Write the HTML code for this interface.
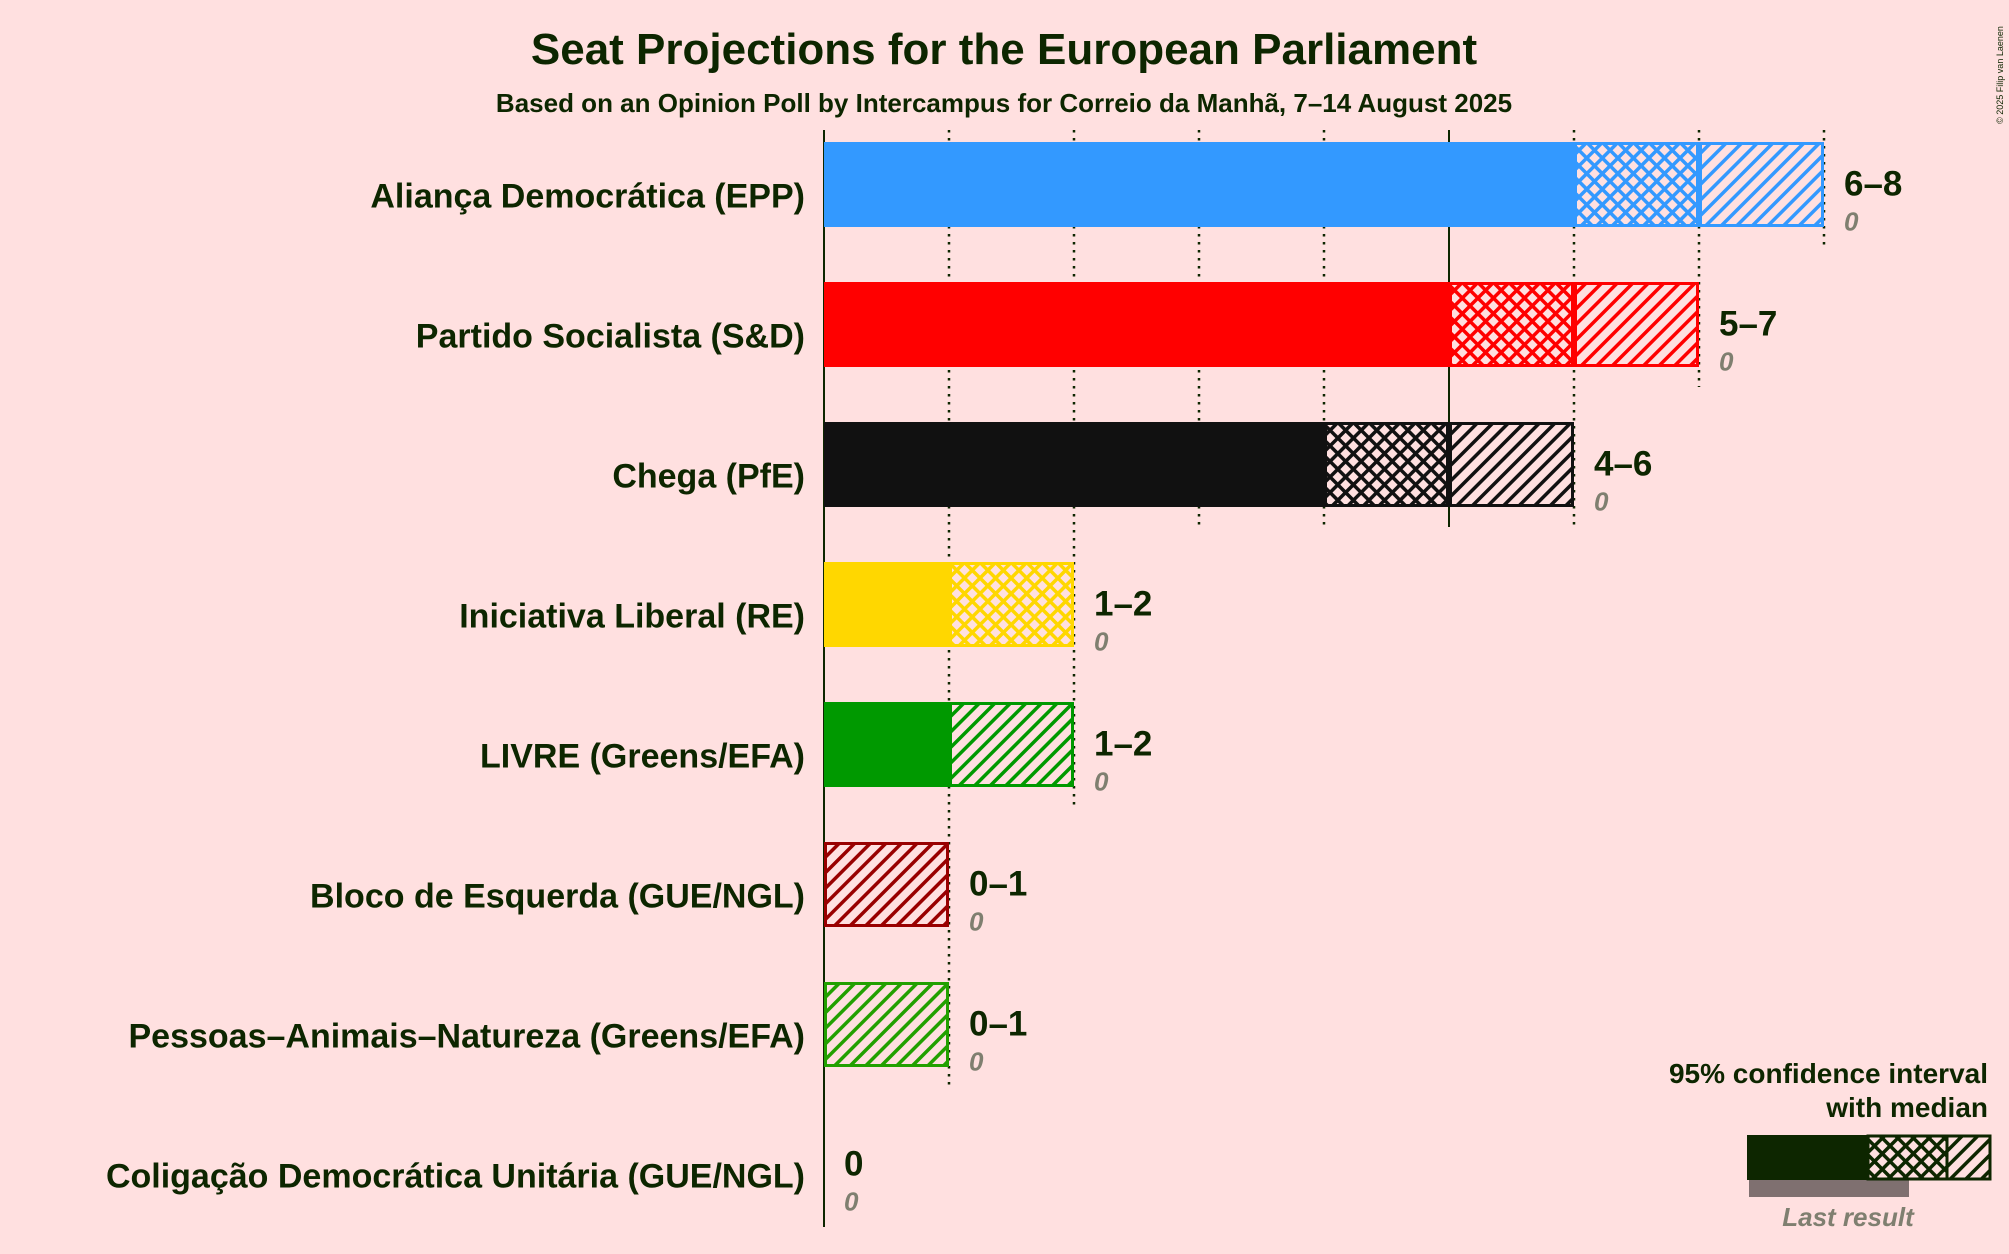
<!DOCTYPE html>
<html><head><meta charset="utf-8"><style>
html,body{margin:0;padding:0;background:#ffe0e0;}
svg{display:block;font-family:"Liberation Sans",sans-serif;}
</style></head><body>
<svg id="chart" width="2009" height="1254" viewBox="0 0 2009 1254" xmlns="http://www.w3.org/2000/svg">
<defs id="defs"></defs>
<rect width="2009" height="1254" fill="#ffe0e0"/>
<text x="1004" y="64" text-anchor="middle" font-size="44" font-weight="bold" fill="#0d2600">Seat Projections for the European Parliament</text>
<text x="1004" y="112" text-anchor="middle" font-size="26" font-weight="bold" fill="#0d2600">Based on an Opinion Poll by Intercampus for Correio da Manhã, 7–14 August 2025</text>
<text transform="translate(2003,75) rotate(-90)" font-size="9" fill="#0d2600" text-anchor="middle">© 2025 Filip van Laenen</text>
<g id="grid"></g><g id="bars"></g>
<g>
<text x="1988" y="1083" text-anchor="end" font-size="28" font-weight="bold" fill="#0d2600">95% confidence interval</text>
<text x="1988" y="1117" text-anchor="end" font-size="28" font-weight="bold" fill="#0d2600">with median</text>
<rect x="1749" y="1180" width="160" height="17" fill="#7f7070"/>
<rect x="1747" y="1135" width="121" height="45" fill="#0d2600"/>
<rect x="1868" y="1136" width="79" height="43" fill="url(#cross-leg)" stroke="#0d2600" stroke-width="3"/>
<rect x="1947" y="1136" width="43" height="43" fill="url(#hatch-leg)" stroke="#0d2600" stroke-width="3"/>
<text x="1848" y="1226" text-anchor="middle" font-size="26" font-style="italic" font-weight="bold" fill="#7f7f70">Last result</text>
</g>
</svg>
<script>
const parties = ["Aliança Democrática (EPP)","Partido Socialista (S&D)","Chega (PfE)","Iniciativa Liberal (RE)","LIVRE (Greens/EFA)","Bloco de Esquerda (GUE/NGL)","Pessoas–Animais–Natureza (Greens/EFA)","Coligação Democrática Unitária (GUE/NGL)"];
const lows = [6,5,4,1,1,0,0,0];
const medians = [7,6,5,2,1,0,0,0];
const highs = [8,7,6,2,2,1,1,0];
const lastResults = [0,0,0,0,0,0,0,0];
const colors = ["#3399ff","#ff0000","#111111","#ffd700","#009900","#990000","#22a000","#cc0000"];
const ticks = [0,1,2,3,4,5,6,7,8];

const NS="http://www.w3.org/2000/svg";
const x0=824, seat=125, top0=142, pitch=140, bh=85;
const X=v=>x0+v*seat, Y=i=>top0+i*pitch;
function el(t,a,p){const e=document.createElementNS(NS,t);for(const k in a)e.setAttribute(k,a[k]);p.appendChild(e);return e;}
const defs=document.getElementById('defs');
function pats(id,c){
  const h=el('pattern',{id:'hatch-'+id,patternUnits:'userSpaceOnUse',width:11,height:11,patternTransform:'rotate(45)'},defs);
  el('rect',{width:11,height:11,fill:'#ffe0e0'},h);
  el('rect',{x:0,y:0,width:3.5,height:11,fill:c},h);
  const x=el('pattern',{id:'cross-'+id,patternUnits:'userSpaceOnUse',width:11,height:11,patternTransform:'rotate(45)'},defs);
  el('rect',{width:11,height:11,fill:'#ffe0e0'},x);
  el('rect',{x:0,y:0,width:3.5,height:11,fill:c},x);
  el('rect',{x:0,y:0,width:11,height:3.5,fill:c},x);
}
colors.forEach((c,i)=>pats(i,c));
pats('leg','#0d2600');

const grid=document.getElementById('grid');
ticks.forEach(t=>{
  let last=-1; highs.forEach((h,i)=>{if(h>=t)last=i;});
  const y2 = t===0 ? Y(parties.length-1)+bh+20 : Y(last)+bh+20;
  const ln=el('line',{x1:X(t),x2:X(t),y1:130,y2:y2,stroke:'#0d2600','stroke-width':(t%5===0)?2:2.5,'stroke-dasharray':(t%5===0)?'none':'2.5,5.5'},grid);
  
  
});

const bars=document.getElementById('bars');
parties.forEach((p,i)=>{
  const y=Y(i), c=colors[i];
  const g=el('g',{},bars);
  
  
  const lab=el('text',{x:805,y:y+bh/2+23,'text-anchor':'end','font-size':34,'font-weight':'bold',fill:'#0d2600'},g);
  lab.textContent=p;
  
  
  if(lows[i]>0){
    const r=el('rect',{x:X(0),y:y,width:X(lows[i])-X(0),height:bh,fill:c},g);
    
    
  }
  if(medians[i]>lows[i]){
    const r=el('rect',{x:X(lows[i])+1.5,y:y+1.5,width:X(medians[i])-X(lows[i])-3,height:bh-3,fill:'url(#cross-'+i+')',stroke:c,'stroke-width':3},g);
    
    
  }
  if(highs[i]>medians[i]){
    const r=el('rect',{x:X(medians[i])+1.5,y:y+1.5,width:X(highs[i])-X(medians[i])-3,height:bh-3,fill:'url(#hatch-'+i+')',stroke:c,'stroke-width':3},g);
    
    
  }
  const tx=X(highs[i])+20;
  const rt=el('text',{x:tx,y:y+bh/2+11,'font-size':35,'font-weight':'bold',fill:'#0d2600'},g);
  rt.textContent=lows[i]===highs[i]?String(lows[i]):lows[i]+'–'+highs[i];
  
  
  const lr=el('text',{x:tx,y:y+bh/2+46,'font-size':26,'font-style':'italic','font-weight':'bold',fill:'#7f7f70'},g);
  lr.textContent=String(lastResults[i]);
  
  
});
</script>
</body></html>
